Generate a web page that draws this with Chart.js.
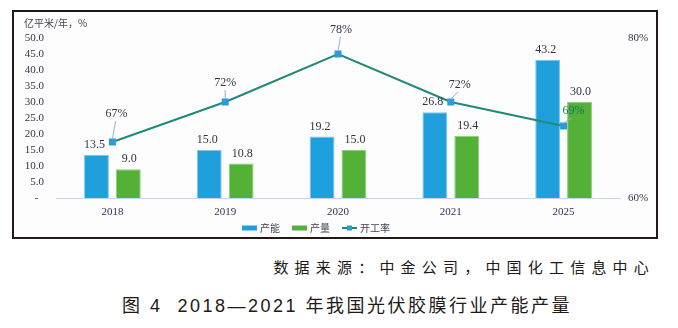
<!DOCTYPE html>
<html>
<head>
<meta charset="utf-8">
<script src="https://cdn.jsdelivr.net/npm/chart.js@4"></script>
<style>
  body { margin: 0; width: 678px; height: 328px; background: #fff; position: relative; overflow: hidden; }
  #frame { position: absolute; left: 12px; top: 10px; width: 642px; height: 225px; border: 2px solid #231815; background: #fdfdfd; }
  #frame canvas { display: block; }
  .cap { position: absolute; color: #231815; font-family: "Liberation Sans", "Noto Sans CJK SC", sans-serif; white-space: nowrap; }
  #source { right: 23px; top: 256px; font-size: 15px; letter-spacing: 6.2px; }
  #title { left: 122px; top: 291px; font-size: 18px; letter-spacing: 2.5px; }
</style>
</head>
<body>
<div id="frame"><canvas id="chart" width="642" height="225"></canvas></div>
<div class="cap" id="source">数据来源：中金公司，中国化工信息中心</div>
<div class="cap" id="title">图 4&nbsp;&nbsp;2018—2021 年我国光伏胶膜行业产能产量</div>
<script>
const years = ["2018", "2019", "2020", "2021", "2025"];
const capacity = [13.5, 15.0, 19.2, 26.8, 43.2];
const output = [9.0, 10.8, 15.0, 19.4, 30.0];
const utilization = [67, 72, 78, 72, 69];
const seriesNames = ["产能", "产量", "开工率"];
const leftTicks = [0, 5, 10, 15, 20, 25, 30, 35, 40, 45, 50];
const rightTicks = [60, 80];

const serif = "'Liberation Serif', 'DejaVu Serif', serif";
const cjk = "'Noto Sans CJK SC', sans-serif";
const tickColor = "#33334d";

// value labels above bars, and % labels with small leader lines on the line
const labelPlugin = {
    id: "labels",
    afterDatasetsDraw(chart) {
        const ctx = chart.ctx;
        ctx.save();
        ctx.font = "12px " + serif;
        ctx.fillStyle = "#333344";
        ctx.textAlign = "center";
        ctx.textBaseline = "middle";
        [0, 1].forEach(function (d) {
            chart.getDatasetMeta(d).data.forEach(function (bar, i) {
                const v = chart.data.datasets[d].data[i];
                ctx.fillText(v.toFixed(1), bar.x - (d === 0 ? 2 : -1), bar.y - 10);
            });
        });
        const offs = [[4, -28], [0, -19], [3, -24], [9, -17], [10, -15]];
        chart.getDatasetMeta(2).data.forEach(function (pt, i) {
            const o = offs[i];
            const lx = pt.x + o[0], ly = pt.y + o[1];
            ctx.strokeStyle = "#8fb4d8";
            ctx.lineWidth = 1;
            ctx.beginPath();
            ctx.moveTo(lx - o[0] * 0.2, ly + 7);
            ctx.lineTo(pt.x, pt.y - 3);
            ctx.stroke();
            ctx.fillStyle = i === 4 ? "#1d6f66" : "#333344";
            ctx.fillText(utilization[i] + "%", lx, ly);
        });
        ctx.restore();
    }
};

// y axis unit text and legend
const extrasPlugin = {
    id: "extras",
    afterDraw(chart) {
        const ctx = chart.ctx;
        ctx.save();
        ctx.font = "10px " + cjk;
        ctx.fillStyle = "#444455";
        ctx.textBaseline = "middle";
        ctx.textAlign = "left";
        ctx.fillText("亿平米/年，%", 10, 11);

        let x = 228;
        const y = 216;
        chart.data.datasets.forEach(function (ds) {
            if (ds.type === "line") {
                ctx.strokeStyle = ds.borderColor;
                ctx.lineWidth = 2;
                ctx.beginPath();
                ctx.moveTo(x, y);
                ctx.lineTo(x + 15, y);
                ctx.stroke();
                ctx.fillStyle = ds.pointBackgroundColor;
                ctx.fillRect(x + 5, y - 2.5, 5, 5);
            } else {
                ctx.fillStyle = ds.backgroundColor;
                ctx.fillRect(x, y - 2.5, 15, 5);
            }
            ctx.fillStyle = "#444455";
            ctx.fillText(ds.label, x + 18, y);
            x += 50;
        });
        ctx.restore();
    }
};

new Chart(document.getElementById("chart"), {
    data: {
        labels: years,
        datasets: [
            {
                type: "bar",
                label: seriesNames[0],
                data: capacity,
                yAxisID: "y",
                backgroundColor: "#1fa0dc",
                borderColor: "#7cc6ec",
                borderWidth: 1,
                categoryPercentage: 0.565,
                barPercentage: 0.78,
                order: 1
            },
            {
                type: "bar",
                label: seriesNames[1],
                data: output,
                yAxisID: "y",
                backgroundColor: "#52b136",
                borderColor: "#8fd07a",
                borderWidth: 1,
                categoryPercentage: 0.565,
                barPercentage: 0.78,
                order: 1
            },
            {
                type: "line",
                label: seriesNames[2],
                data: utilization,
                yAxisID: "y1",
                borderColor: "#21897a",
                borderWidth: 2,
                backgroundColor: "#2e9ad8",
                pointStyle: "rect",
                pointRadius: 3.5,
                pointBackgroundColor: "#2e9ad8",
                pointBorderColor: "#2e9ad8",
                tension: 0,
                order: 0
            }
        ]
    },
    options: {
        responsive: false,
        animation: false,
        layout: { padding: { top: 26, left: 0, right: 0, bottom: 0 } },
        plugins: {
            legend: { display: false },
            tooltip: { enabled: false }
        },
        scales: {
            x: {
                grid: { display: false },
                border: { display: true, color: "#c5d6ec", width: 1 },
                ticks: { font: { family: serif, size: 11 }, color: tickColor, padding: 0 },
                afterFit(s) { s.height = 39; }
            },
            y: {
                position: "left",
                min: leftTicks[0],
                max: leftTicks[leftTicks.length - 1],
                grid: { display: false },
                border: { display: false },
                afterBuildTicks(s) { s.ticks = leftTicks.map(v => ({ value: v })); },
                ticks: {
                    font: { family: serif, size: 11 },
                    color: tickColor,
                    padding: 4,
                    autoSkip: false,
                    callback: v => v === 0 ? "-  " : v.toFixed(1)
                },
                afterFit(s) { s.width = 42; }
            },
            y1: {
                position: "right",
                min: rightTicks[0],
                max: rightTicks[rightTicks.length - 1],
                grid: { display: false },
                border: { display: false },
                afterBuildTicks(s) { s.ticks = rightTicks.map(v => ({ value: v })); },
                ticks: {
                    font: { family: serif, size: 11 },
                    color: tickColor,
                    padding: 0,
                    autoSkip: false,
                    callback: v => v + "%"
                },
                afterFit(s) { s.width = 36; }
            }
        }
    },
    plugins: [labelPlugin, extrasPlugin]
});
</script>
</body>
</html>
